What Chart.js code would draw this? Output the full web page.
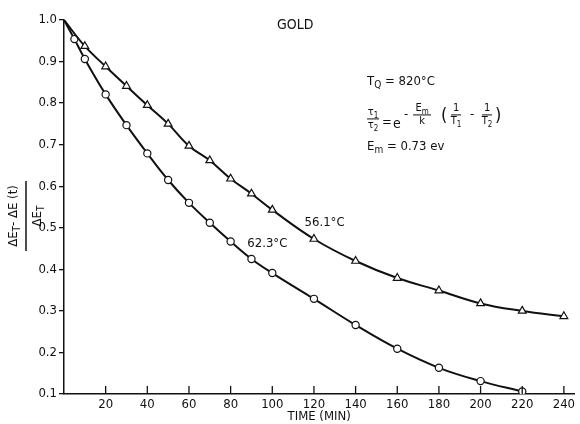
<!DOCTYPE html>
<html>
<head>
<meta charset="utf-8">
<script src="https://cdn.jsdelivr.net/npm/chart.js@4.4.1/dist/chart.umd.min.js"></script>
<style>
  html, body { margin: 0; padding: 0; background: #fff; }
  #wrap { width: 580px; height: 424px; }
</style>
</head>
<body>
<div id="wrap"><canvas id="chart" width="580" height="424"></canvas></div>
<script>
// time in minutes and the fraction
var times561 = [0, 10, 20, 30, 40, 50, 60, 70, 80, 90, 100, 120, 140, 160, 180, 200, 220, 240]
var values561 = [1.0, 0.937, 0.888, 0.841, 0.795, 0.750, 0.697, 0.662, 0.618, 0.582, 0.543, 0.473, 0.420, 0.379, 0.349, 0.318, 0.300, 0.287]
var times623 = [0, 5, 10, 20, 30, 40, 50, 60, 70, 80, 90, 100, 120, 140, 160, 180, 200, 220]
var values623 = [1.0, 0.954, 0.906, 0.821, 0.747, 0.679, 0.615, 0.560, 0.512, 0.467, 0.425, 0.391, 0.329, 0.266, 0.209, 0.163, 0.131, 0.106]
var xTicks = [20, 40, 60, 80, 100, 120, 140, 160, 180, 200, 220, 240]
var yTicks = [0.1, 0.2, 0.3, 0.4, 0.5, 0.6, 0.7, 0.8, 0.9, 1.0]

var FONT = '"DejaVu Sans Condensed", "Liberation Sans Narrow", "DejaVu Sans", sans-serif'

function toPoints(xs, ys) {
    var pts = []
    for (var i = 0; i < xs.length; ++i) pts.push({ x: xs[i], y: ys[i] })
    return pts
}
// no marker at t = 0, the curves just start from the corner
function radii(xs, r) {
    return xs.map(function (x) { return x === 0 ? 0 : r })
}

function setFont(ctx, p, size) {
    ctx.font = (p.sub ? Math.round(size * 0.75) : size) + 'px ' + FONT
}
function piecesWidth(ctx, pieces, size) {
    var w = 0
    pieces.forEach(function (p) {
        setFont(ctx, p, size)
        p.w = ctx.measureText(p.t).width
        w += p.w
    })
    return w
}
// text made of pieces, some of them subscripts, starting at x
function drawPiecesLeft(ctx, pieces, x, cy, size) {
    piecesWidth(ctx, pieces, size)
    ctx.textAlign = 'left'
    ctx.textBaseline = 'middle'
    pieces.forEach(function (p) {
        setFont(ctx, p, size)
        ctx.fillText(p.t, x, cy + (p.sub ? size * 0.3 : 0))
        x += p.w
    })
}
function drawPiecesCentered(ctx, pieces, cx, cy, size) {
    var w = piecesWidth(ctx, pieces, size)
    drawPiecesLeft(ctx, pieces, cx - w / 2, cy, size)
}
// small stacked fraction
function frac(ctx, top, bottom, cx, cy, half, size) {
    drawPiecesCentered(ctx, top, cx, cy - size * 0.6, size)
    drawPiecesCentered(ctx, bottom, cx, cy + size * 0.6, size)
    ctx.lineWidth = 1
    ctx.beginPath()
    ctx.moveTo(cx - half, cy)
    ctx.lineTo(cx + half, cy)
    ctx.stroke()
}

var decorations = {
    id: 'decorations',
    afterDraw: function (chart) {
        var ctx = chart.ctx
        var xs = chart.scales.x, ys = chart.scales.y
        var area = chart.chartArea
        ctx.save()
        ctx.fillStyle = '#111'
        ctx.strokeStyle = '#111'

        // x ticks point inward
        ctx.lineWidth = 1.3
        xTicks.forEach(function (v) {
            var px = xs.getPixelForValue(v)
            ctx.beginPath()
            ctx.moveTo(px, area.bottom)
            ctx.lineTo(px, area.bottom - 8)
            ctx.stroke()
        })

        // y axis title as a rotated fraction
        ctx.save()
        ctx.translate(26, 216)
        ctx.rotate(-Math.PI / 2)
        drawPiecesCentered(ctx, [{ t: 'ΔE' }, { t: 'T', sub: true }, { t: '- ΔE (t)' }], 0, -12, 13)
        drawPiecesCentered(ctx, [{ t: 'ΔE' }, { t: 'T', sub: true }], 0, 12, 13)
        ctx.lineWidth = 1.5
        ctx.beginPath()
        ctx.moveTo(-35, 0)
        ctx.lineTo(35, 0)
        ctx.stroke()
        ctx.restore()

        // title
        ctx.font = '14px ' + FONT
        ctx.textAlign = 'center'
        ctx.textBaseline = 'middle'
        ctx.fillText('GOLD', xs.getPixelForValue(111), ys.getPixelForValue(0.988))

        // curve labels
        ctx.font = '13px ' + FONT
        ctx.textAlign = 'left'
        ctx.fillText('56.1°C', xs.getPixelForValue(115.5), ys.getPixelForValue(0.512))
        ctx.fillText('62.3°C', xs.getPixelForValue(88), ys.getPixelForValue(0.461))

        // quench temperature and formula block
        var bx = xs.getPixelForValue(145.5)
        var by = ys.getPixelForValue(0.851)
        drawPiecesLeft(ctx, [{ t: 'T' }, { t: 'Q', sub: true }, { t: ' = 820°C' }], bx, by, 13)

        frac(ctx, [{ t: 'τ' }, { t: '1', sub: true }], [{ t: 'τ' }, { t: '2', sub: true }], bx + 6, by + 37, 6, 11)
        ctx.font = '13px ' + FONT
        ctx.textAlign = 'left'
        ctx.fillText('=', bx + 15, by + 41)
        ctx.font = '14px ' + FONT
        ctx.fillText('e', bx + 26, by + 42)

        var ey = by + 33
        ctx.font = '13px ' + FONT
        ctx.textAlign = 'center'
        ctx.fillText('-', bx + 39, ey)
        frac(ctx, [{ t: 'E' }, { t: 'm', sub: true }], [{ t: 'k' }], bx + 55, ey, 9, 11)
        ctx.font = '18px ' + FONT
        ctx.textAlign = 'center'
        ctx.fillText('(', bx + 77, ey + 1)
        frac(ctx, [{ t: '1' }], [{ t: 'T' }, { t: '1', sub: true }], bx + 89, ey, 5, 11)
        ctx.font = '13px ' + FONT
        ctx.textAlign = 'center'
        ctx.fillText('-', bx + 105, ey)
        frac(ctx, [{ t: '1' }], [{ t: 'T' }, { t: '2', sub: true }], bx + 120, ey, 5, 11)
        ctx.font = '18px ' + FONT
        ctx.textAlign = 'center'
        ctx.fillText(')', bx + 131, ey + 1)

        drawPiecesLeft(ctx, [{ t: 'E' }, { t: 'm', sub: true }, { t: ' = 0.73 ev' }], bx, by + 65, 13)
        ctx.restore()
    }
}

var ctx = document.getElementById('chart').getContext('2d')

var config = {
    type: 'scatter',
    data: {
        datasets: [{
            label: '56.1°C',
            data: toPoints(times561, values561),
            showLine: true,
            tension: 0.4,
            borderColor: '#111',
            borderWidth: 2,
            pointStyle: 'triangle',
            pointRadius: radii(times561, 4.5),
            pointBackgroundColor: '#fff',
            pointBorderColor: '#111',
            pointBorderWidth: 1.2
        }, {
            label: '62.3°C',
            data: toPoints(times623, values623),
            showLine: true,
            tension: 0.4,
            borderColor: '#111',
            borderWidth: 2,
            pointStyle: 'circle',
            pointRadius: radii(times623, 3.6),
            pointBackgroundColor: '#fff',
            pointBorderColor: '#111',
            pointBorderWidth: 1.2
        }]
    },
    options: {
        responsive: false,
        animation: false,
        layout: { padding: { top: 20, right: 0, bottom: 0, left: 0 } },
        plugins: {
            legend: { display: false },
            tooltip: { enabled: false }
        },
        scales: {
            x: {
                type: 'linear',
                min: 0,
                max: 245,
                afterFit: function (scale) { scale.height = 30 },
                afterBuildTicks: function (scale) {
                    scale.ticks = xTicks.map(function (v) { return { value: v } })
                },
                grid: { display: true, drawOnChartArea: false, drawTicks: false },
                border: { display: true, color: '#111', width: 1.5 },
                ticks: {
                    color: '#111',
                    padding: 3,
                    maxRotation: 0,
                    font: { family: FONT, size: 13 }
                },
                title: {
                    display: true,
                    text: 'TIME (MIN)',
                    color: '#111',
                    padding: { top: 0, bottom: 0 },
                    font: { family: FONT, size: 13 }
                }
            },
            y: {
                type: 'linear',
                min: 0.1,
                max: 1.0,
                afterFit: function (scale) { scale.width = 64 },
                afterBuildTicks: function (scale) {
                    scale.ticks = yTicks.map(function (v) { return { value: v } })
                },
                grid: { display: true, drawOnChartArea: false, drawTicks: true, tickLength: 5, color: '#111', lineWidth: 1.3 },
                border: { display: true, color: '#111', width: 1.5 },
                ticks: {
                    color: '#111',
                    padding: 2,
                    font: { family: FONT, size: 13 },
                    callback: function (v) { return v.toFixed(1) }
                }
            }
        }
    },
    plugins: [decorations]
}

var chart = new Chart(ctx, config)
</script>
</body>
</html>
